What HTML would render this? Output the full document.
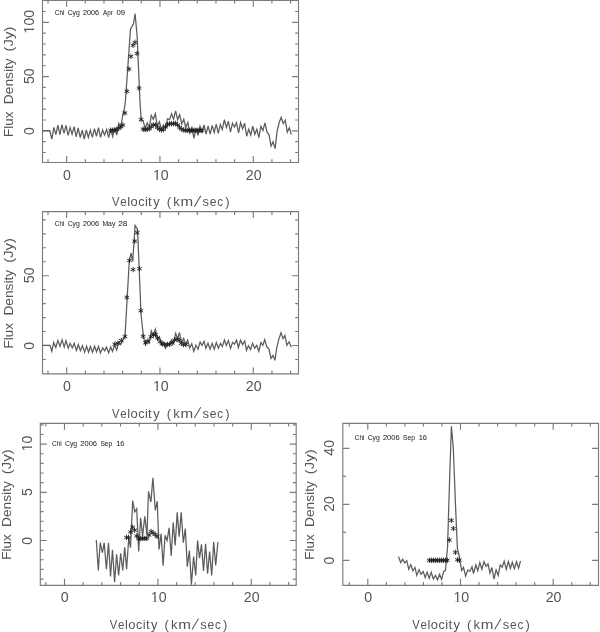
<!DOCTYPE html>
<html><head><meta charset="utf-8"><style>
html,body{margin:0;padding:0;background:#fff;}
svg{display:block;filter:blur(0.36px);}
text{font-family:"Liberation Sans", sans-serif;}
.n{font-size:14.2px;fill:#555;}
.t{font-size:13px;fill:#555;}
.s{font-size:7.8px;fill:#2a2a2a;stroke:#2a2a2a;stroke-width:0.05px;}
</style></head><body>
<svg width="600" height="632" viewBox="0 0 600 632">
<rect width="600" height="632" fill="#fff"/>
<path d="M42.5,0.3H298.5V162.5H42.5ZM48.01,0.3v3.3M48.01,162.5v-3.3M66.67,0.3v6.5M66.67,162.5v-6.5M85.33,0.3v3.3M85.33,162.5v-3.3M103.99,0.3v3.3M103.99,162.5v-3.3M122.65,0.3v3.3M122.65,162.5v-3.3M141.31,0.3v3.3M141.31,162.5v-3.3M159.97,0.3v6.5M159.97,162.5v-6.5M178.63,0.3v3.3M178.63,162.5v-3.3M197.29,0.3v3.3M197.29,162.5v-3.3M215.95,0.3v3.3M215.95,162.5v-3.3M234.61,0.3v3.3M234.61,162.5v-3.3M253.27,0.3v6.5M253.27,162.5v-6.5M271.93,0.3v3.3M271.93,162.5v-3.3M290.59,0.3v3.3M290.59,162.5v-3.3M42.5,152.50h3.3M298.5,152.50h-3.3M42.5,141.65h3.3M298.5,141.65h-3.3M42.5,130.80h6.5M298.5,130.80h-6.5M42.5,119.95h3.3M298.5,119.95h-3.3M42.5,109.10h3.3M298.5,109.10h-3.3M42.5,98.25h3.3M298.5,98.25h-3.3M42.5,87.40h3.3M298.5,87.40h-3.3M42.5,76.55h6.5M298.5,76.55h-6.5M42.5,65.70h3.3M298.5,65.70h-3.3M42.5,54.85h3.3M298.5,54.85h-3.3M42.5,44.00h3.3M298.5,44.00h-3.3M42.5,33.15h3.3M298.5,33.15h-3.3M42.5,22.30h6.5M298.5,22.30h-6.5M42.5,11.45h3.3M298.5,11.45h-3.3" fill="none" stroke="#7c7c7c" stroke-width="1.15"/>
<text x="63.02" y="179.60" class="n" textLength="7.90" lengthAdjust="spacingAndGlyphs">0</text>
<text x="152.91" y="179.60" class="n" textLength="15.79" lengthAdjust="spacingAndGlyphs">10</text><rect x="153.60" y="178.39" width="2.78" height="2.26" fill="#fff"/><rect x="157.83" y="178.39" width="2.80" height="2.26" fill="#fff"/>
<text x="245.79" y="179.60" class="n" textLength="15.79" lengthAdjust="spacingAndGlyphs">20</text>
<g transform="translate(33.70,131.05) rotate(-90)"><text x="-3.95" y="0.00" class="n" textLength="7.90" lengthAdjust="spacingAndGlyphs">0</text></g>
<g transform="translate(33.70,76.20) rotate(-90)"><text x="-7.90" y="0.00" class="n" textLength="15.79" lengthAdjust="spacingAndGlyphs">50</text></g>
<g transform="translate(33.70,21.35) rotate(-90)"><text x="-12.11" y="0.00" class="n" textLength="23.69" lengthAdjust="spacingAndGlyphs">100</text><rect x="-11.42" y="-1.21" width="2.78" height="2.26" fill="#fff"/><rect x="-7.18" y="-1.21" width="2.80" height="2.26" fill="#fff"/></g>
<text transform="translate(112.05,206.40) scale(0.865,1)" x="0" y="0" class="t">V</text><text transform="translate(120.31,206.40) scale(0.885,1)" x="0" y="0" class="t">e</text><text transform="translate(127.15,206.40) scale(1.000,1)" x="0" y="0" class="t">l</text><text transform="translate(130.56,206.40) scale(0.994,1)" x="0" y="0" class="t">o</text><text transform="translate(138.27,206.40) scale(0.963,1)" x="0" y="0" class="t">c</text><text transform="translate(145.06,206.40) scale(1.000,1)" x="0" y="0" class="t">i</text><text transform="translate(148.10,206.40) scale(1.024,1)" x="0" y="0" class="t">t</text><text transform="translate(153.27,206.40) scale(0.993,1)" x="0" y="0" class="t">y</text>
<text transform="translate(166.82,206.40) scale(1.000,1)" x="0" y="0" class="t">(</text><text transform="translate(173.17,206.40) scale(1.001,1)" x="0" y="0" class="t">k</text><text transform="translate(180.54,206.40) scale(1.169,1)" x="0" y="0" class="t">m</text><line x1="194.25" y1="206.70" x2="200.75" y2="195.80" stroke="#555" stroke-width="1.05"/><text transform="translate(202.44,206.40) scale(0.997,1)" x="0" y="0" class="t">s</text><text transform="translate(209.79,206.40) scale(0.926,1)" x="0" y="0" class="t">e</text><text transform="translate(217.31,206.40) scale(0.892,1)" x="0" y="0" class="t">c</text><text transform="translate(225.25,206.40) scale(1.000,1)" x="0" y="0" class="t">)</text>
<g transform="translate(13.30,162.50) rotate(-90)"><text x="25.49" y="0.00" class="t" textLength="25.45" lengthAdjust="spacingAndGlyphs">Flux</text><text x="58.37" y="0.00" class="t" textLength="45.75" lengthAdjust="spacingAndGlyphs">Density</text><text x="111.08" y="0.00" class="t" textLength="24.85" lengthAdjust="spacingAndGlyphs">(Jy)</text></g>
<path d="M42.5,211.6H298.5V373.9H42.5ZM48.01,211.6v3.3M48.01,373.9v-3.3M66.67,211.6v6.5M66.67,373.9v-6.5M85.33,211.6v3.3M85.33,373.9v-3.3M103.99,211.6v3.3M103.99,373.9v-3.3M122.65,211.6v3.3M122.65,373.9v-3.3M141.31,211.6v3.3M141.31,373.9v-3.3M159.97,211.6v6.5M159.97,373.9v-6.5M178.63,211.6v3.3M178.63,373.9v-3.3M197.29,211.6v3.3M197.29,373.9v-3.3M215.95,211.6v3.3M215.95,373.9v-3.3M234.61,211.6v3.3M234.61,373.9v-3.3M253.27,211.6v6.5M253.27,373.9v-6.5M271.93,211.6v3.3M271.93,373.9v-3.3M290.59,211.6v3.3M290.59,373.9v-3.3M42.5,359.46h3.3M298.5,359.46h-3.3M42.5,345.50h6.5M298.5,345.50h-6.5M42.5,331.54h3.3M298.5,331.54h-3.3M42.5,317.58h3.3M298.5,317.58h-3.3M42.5,303.62h3.3M298.5,303.62h-3.3M42.5,289.66h3.3M298.5,289.66h-3.3M42.5,275.70h6.5M298.5,275.70h-6.5M42.5,261.74h3.3M298.5,261.74h-3.3M42.5,247.78h3.3M298.5,247.78h-3.3M42.5,233.82h3.3M298.5,233.82h-3.3M42.5,219.86h3.3M298.5,219.86h-3.3" fill="none" stroke="#7c7c7c" stroke-width="1.15"/>
<text x="63.02" y="391.00" class="n" textLength="7.90" lengthAdjust="spacingAndGlyphs">0</text>
<text x="152.91" y="391.00" class="n" textLength="15.79" lengthAdjust="spacingAndGlyphs">10</text><rect x="153.60" y="389.79" width="2.78" height="2.26" fill="#fff"/><rect x="157.83" y="389.79" width="2.80" height="2.26" fill="#fff"/>
<text x="245.79" y="391.00" class="n" textLength="15.79" lengthAdjust="spacingAndGlyphs">20</text>
<g transform="translate(33.70,345.75) rotate(-90)"><text x="-3.95" y="0.00" class="n" textLength="7.90" lengthAdjust="spacingAndGlyphs">0</text></g>
<g transform="translate(33.70,275.35) rotate(-90)"><text x="-7.90" y="0.00" class="n" textLength="15.79" lengthAdjust="spacingAndGlyphs">50</text></g>
<text transform="translate(112.05,417.80) scale(0.865,1)" x="0" y="0" class="t">V</text><text transform="translate(120.31,417.80) scale(0.885,1)" x="0" y="0" class="t">e</text><text transform="translate(127.15,417.80) scale(1.000,1)" x="0" y="0" class="t">l</text><text transform="translate(130.56,417.80) scale(0.994,1)" x="0" y="0" class="t">o</text><text transform="translate(138.27,417.80) scale(0.963,1)" x="0" y="0" class="t">c</text><text transform="translate(145.06,417.80) scale(1.000,1)" x="0" y="0" class="t">i</text><text transform="translate(148.10,417.80) scale(1.024,1)" x="0" y="0" class="t">t</text><text transform="translate(153.27,417.80) scale(0.993,1)" x="0" y="0" class="t">y</text>
<text transform="translate(166.82,417.80) scale(1.000,1)" x="0" y="0" class="t">(</text><text transform="translate(173.17,417.80) scale(1.001,1)" x="0" y="0" class="t">k</text><text transform="translate(180.54,417.80) scale(1.169,1)" x="0" y="0" class="t">m</text><line x1="194.25" y1="418.10" x2="200.75" y2="407.20" stroke="#555" stroke-width="1.05"/><text transform="translate(202.44,417.80) scale(0.997,1)" x="0" y="0" class="t">s</text><text transform="translate(209.79,417.80) scale(0.926,1)" x="0" y="0" class="t">e</text><text transform="translate(217.31,417.80) scale(0.892,1)" x="0" y="0" class="t">c</text><text transform="translate(225.25,417.80) scale(1.000,1)" x="0" y="0" class="t">)</text>
<g transform="translate(13.30,373.90) rotate(-90)"><text x="25.49" y="0.00" class="t" textLength="25.45" lengthAdjust="spacingAndGlyphs">Flux</text><text x="58.37" y="0.00" class="t" textLength="45.75" lengthAdjust="spacingAndGlyphs">Density</text><text x="111.08" y="0.00" class="t" textLength="24.85" lengthAdjust="spacingAndGlyphs">(Jy)</text></g>
<path d="M40.3,423.3H296.2V585.3H40.3ZM45.82,423.3v3.3M45.82,585.3v-3.3M64.50,423.3v6.5M64.50,585.3v-6.5M83.18,423.3v3.3M83.18,585.3v-3.3M101.86,423.3v3.3M101.86,585.3v-3.3M120.54,423.3v3.3M120.54,585.3v-3.3M139.22,423.3v3.3M139.22,585.3v-3.3M157.90,423.3v6.5M157.90,585.3v-6.5M176.58,423.3v3.3M176.58,585.3v-3.3M195.26,423.3v3.3M195.26,585.3v-3.3M213.94,423.3v3.3M213.94,585.3v-3.3M232.62,423.3v3.3M232.62,585.3v-3.3M251.30,423.3v6.5M251.30,585.3v-6.5M269.98,423.3v3.3M269.98,585.3v-3.3M288.66,423.3v3.3M288.66,585.3v-3.3M40.3,579.06h3.3M296.2,579.06h-3.3M40.3,569.42h3.3M296.2,569.42h-3.3M40.3,559.78h3.3M296.2,559.78h-3.3M40.3,550.14h3.3M296.2,550.14h-3.3M40.3,540.50h6.5M296.2,540.50h-6.5M40.3,530.86h3.3M296.2,530.86h-3.3M40.3,521.22h3.3M296.2,521.22h-3.3M40.3,511.58h3.3M296.2,511.58h-3.3M40.3,501.94h3.3M296.2,501.94h-3.3M40.3,492.30h6.5M296.2,492.30h-6.5M40.3,482.66h3.3M296.2,482.66h-3.3M40.3,473.02h3.3M296.2,473.02h-3.3M40.3,463.38h3.3M296.2,463.38h-3.3M40.3,453.74h3.3M296.2,453.74h-3.3M40.3,444.10h6.5M296.2,444.10h-6.5M40.3,434.46h3.3M296.2,434.46h-3.3M40.3,424.82h3.3M296.2,424.82h-3.3" fill="none" stroke="#7c7c7c" stroke-width="1.15"/>
<text x="60.85" y="602.40" class="n" textLength="7.90" lengthAdjust="spacingAndGlyphs">0</text>
<text x="150.84" y="602.40" class="n" textLength="15.79" lengthAdjust="spacingAndGlyphs">10</text><rect x="151.53" y="601.19" width="2.78" height="2.26" fill="#fff"/><rect x="155.76" y="601.19" width="2.80" height="2.26" fill="#fff"/>
<text x="243.82" y="602.40" class="n" textLength="15.79" lengthAdjust="spacingAndGlyphs">20</text>
<g transform="translate(31.50,540.75) rotate(-90)"><text x="-3.95" y="0.00" class="n" textLength="7.90" lengthAdjust="spacingAndGlyphs">0</text></g>
<g transform="translate(31.50,492.10) rotate(-90)"><text x="-3.93" y="0.00" class="n" textLength="7.90" lengthAdjust="spacingAndGlyphs">5</text></g>
<g transform="translate(31.50,443.20) rotate(-90)"><text x="-8.16" y="0.00" class="n" textLength="15.79" lengthAdjust="spacingAndGlyphs">10</text><rect x="-7.47" y="-1.21" width="2.78" height="2.26" fill="#fff"/><rect x="-3.24" y="-1.21" width="2.80" height="2.26" fill="#fff"/></g>
<text transform="translate(109.85,629.20) scale(0.865,1)" x="0" y="0" class="t">V</text><text transform="translate(118.11,629.20) scale(0.885,1)" x="0" y="0" class="t">e</text><text transform="translate(124.95,629.20) scale(1.000,1)" x="0" y="0" class="t">l</text><text transform="translate(128.36,629.20) scale(0.994,1)" x="0" y="0" class="t">o</text><text transform="translate(136.07,629.20) scale(0.963,1)" x="0" y="0" class="t">c</text><text transform="translate(142.86,629.20) scale(1.000,1)" x="0" y="0" class="t">i</text><text transform="translate(145.90,629.20) scale(1.024,1)" x="0" y="0" class="t">t</text><text transform="translate(151.07,629.20) scale(0.993,1)" x="0" y="0" class="t">y</text>
<text transform="translate(164.62,629.20) scale(1.000,1)" x="0" y="0" class="t">(</text><text transform="translate(170.97,629.20) scale(1.001,1)" x="0" y="0" class="t">k</text><text transform="translate(178.34,629.20) scale(1.169,1)" x="0" y="0" class="t">m</text><line x1="192.05" y1="629.50" x2="198.55" y2="618.60" stroke="#555" stroke-width="1.05"/><text transform="translate(200.24,629.20) scale(0.997,1)" x="0" y="0" class="t">s</text><text transform="translate(207.59,629.20) scale(0.926,1)" x="0" y="0" class="t">e</text><text transform="translate(215.11,629.20) scale(0.892,1)" x="0" y="0" class="t">c</text><text transform="translate(223.05,629.20) scale(1.000,1)" x="0" y="0" class="t">)</text>
<g transform="translate(11.10,585.30) rotate(-90)"><text x="25.49" y="0.00" class="t" textLength="25.45" lengthAdjust="spacingAndGlyphs">Flux</text><text x="58.37" y="0.00" class="t" textLength="45.75" lengthAdjust="spacingAndGlyphs">Density</text><text x="111.08" y="0.00" class="t" textLength="24.85" lengthAdjust="spacingAndGlyphs">(Jy)</text></g>
<path d="M342.8,423.3H598.5V585.3H342.8ZM349.26,423.3v3.3M349.26,585.3v-3.3M367.80,423.3v6.5M367.80,585.3v-6.5M386.34,423.3v3.3M386.34,585.3v-3.3M404.88,423.3v3.3M404.88,585.3v-3.3M423.42,423.3v3.3M423.42,585.3v-3.3M441.96,423.3v3.3M441.96,585.3v-3.3M460.50,423.3v6.5M460.50,585.3v-6.5M479.04,423.3v3.3M479.04,585.3v-3.3M497.58,423.3v3.3M497.58,585.3v-3.3M516.12,423.3v3.3M516.12,585.3v-3.3M534.66,423.3v3.3M534.66,585.3v-3.3M553.20,423.3v6.5M553.20,585.3v-6.5M571.74,423.3v3.3M571.74,585.3v-3.3M590.28,423.3v3.3M590.28,585.3v-3.3M342.8,560.40h6.5M598.5,560.40h-6.5M342.8,532.40h3.3M598.5,532.40h-3.3M342.8,504.40h6.5M598.5,504.40h-6.5M342.8,476.40h3.3M598.5,476.40h-3.3M342.8,448.40h6.5M598.5,448.40h-6.5" fill="none" stroke="#7c7c7c" stroke-width="1.15"/>
<text x="364.15" y="602.40" class="n" textLength="7.90" lengthAdjust="spacingAndGlyphs">0</text>
<text x="453.44" y="602.40" class="n" textLength="15.79" lengthAdjust="spacingAndGlyphs">10</text><rect x="454.13" y="601.19" width="2.78" height="2.26" fill="#fff"/><rect x="458.36" y="601.19" width="2.80" height="2.26" fill="#fff"/>
<text x="545.72" y="602.40" class="n" textLength="15.79" lengthAdjust="spacingAndGlyphs">20</text>
<g transform="translate(334.00,560.65) rotate(-90)"><text x="-3.95" y="0.00" class="n" textLength="7.90" lengthAdjust="spacingAndGlyphs">0</text></g>
<g transform="translate(334.00,503.90) rotate(-90)"><text x="-7.98" y="0.00" class="n" textLength="15.79" lengthAdjust="spacingAndGlyphs">20</text></g>
<g transform="translate(334.00,447.90) rotate(-90)"><text x="-7.78" y="0.00" class="n" textLength="15.79" lengthAdjust="spacingAndGlyphs">40</text></g>
<text transform="translate(412.35,629.20) scale(0.865,1)" x="0" y="0" class="t">V</text><text transform="translate(420.61,629.20) scale(0.885,1)" x="0" y="0" class="t">e</text><text transform="translate(427.45,629.20) scale(1.000,1)" x="0" y="0" class="t">l</text><text transform="translate(430.86,629.20) scale(0.994,1)" x="0" y="0" class="t">o</text><text transform="translate(438.57,629.20) scale(0.963,1)" x="0" y="0" class="t">c</text><text transform="translate(445.36,629.20) scale(1.000,1)" x="0" y="0" class="t">i</text><text transform="translate(448.40,629.20) scale(1.024,1)" x="0" y="0" class="t">t</text><text transform="translate(453.57,629.20) scale(0.993,1)" x="0" y="0" class="t">y</text>
<text transform="translate(467.12,629.20) scale(1.000,1)" x="0" y="0" class="t">(</text><text transform="translate(473.47,629.20) scale(1.001,1)" x="0" y="0" class="t">k</text><text transform="translate(480.84,629.20) scale(1.169,1)" x="0" y="0" class="t">m</text><line x1="494.55" y1="629.50" x2="501.05" y2="618.60" stroke="#555" stroke-width="1.05"/><text transform="translate(502.74,629.20) scale(0.997,1)" x="0" y="0" class="t">s</text><text transform="translate(510.09,629.20) scale(0.926,1)" x="0" y="0" class="t">e</text><text transform="translate(517.61,629.20) scale(0.892,1)" x="0" y="0" class="t">c</text><text transform="translate(525.55,629.20) scale(1.000,1)" x="0" y="0" class="t">)</text>
<g transform="translate(313.60,585.30) rotate(-90)"><text x="25.49" y="0.00" class="t" textLength="25.45" lengthAdjust="spacingAndGlyphs">Flux</text><text x="58.37" y="0.00" class="t" textLength="45.75" lengthAdjust="spacingAndGlyphs">Density</text><text x="111.08" y="0.00" class="t" textLength="24.85" lengthAdjust="spacingAndGlyphs">(Jy)</text></g>
<text x="54.77" y="14.50" class="s" textLength="9.66" lengthAdjust="spacingAndGlyphs">Chi</text>
<text x="67.65" y="14.50" class="s" textLength="12.08" lengthAdjust="spacingAndGlyphs">Cyg</text>
<text x="82.94" y="14.50" class="s" textLength="16.08" lengthAdjust="spacingAndGlyphs">2006</text>
<text x="102.99" y="14.50" class="s" textLength="9.82" lengthAdjust="spacingAndGlyphs">Apr</text>
<text x="116.40" y="14.50" class="s" textLength="8.67" lengthAdjust="spacingAndGlyphs">09</text>
<text x="54.77" y="225.80" class="s" textLength="9.66" lengthAdjust="spacingAndGlyphs">Chi</text>
<text x="67.65" y="225.80" class="s" textLength="12.08" lengthAdjust="spacingAndGlyphs">Cyg</text>
<text x="82.94" y="225.80" class="s" textLength="16.08" lengthAdjust="spacingAndGlyphs">2006</text>
<text x="102.44" y="225.80" class="s" textLength="12.87" lengthAdjust="spacingAndGlyphs">May</text>
<text x="118.29" y="225.80" class="s" textLength="9.17" lengthAdjust="spacingAndGlyphs">28</text>
<text x="52.07" y="445.80" class="s" textLength="9.66" lengthAdjust="spacingAndGlyphs">Chi</text>
<text x="64.95" y="445.80" class="s" textLength="12.19" lengthAdjust="spacingAndGlyphs">Cyg</text>
<text x="80.32" y="445.80" class="s" textLength="16.71" lengthAdjust="spacingAndGlyphs">2006</text>
<text x="100.40" y="445.80" class="s" textLength="11.88" lengthAdjust="spacingAndGlyphs">Sep</text>
<text x="116.14" y="445.80" class="s" textLength="8.18" lengthAdjust="spacingAndGlyphs">16</text>
<text x="354.77" y="439.80" class="s" textLength="9.66" lengthAdjust="spacingAndGlyphs">Chi</text>
<text x="367.65" y="439.80" class="s" textLength="12.08" lengthAdjust="spacingAndGlyphs">Cyg</text>
<text x="382.92" y="439.80" class="s" textLength="16.71" lengthAdjust="spacingAndGlyphs">2006</text>
<text x="402.99" y="439.80" class="s" textLength="11.99" lengthAdjust="spacingAndGlyphs">Sep</text>
<text x="418.73" y="439.80" class="s" textLength="8.30" lengthAdjust="spacingAndGlyphs">16</text>
<polyline fill="none" stroke="#5c5c5c" stroke-width="1.25" stroke-linejoin="miter" points="42.50,130.50 49.77,130.50 51.80,139.20 53.83,127.30 55.86,134.60 57.89,125.20 59.92,134.60 61.95,124.60 63.98,133.30 66.01,125.40 68.04,135.40 70.07,127.50 72.10,134.20 74.13,126.70 76.16,136.80 78.19,127.90 80.22,137.50 82.25,130.20 84.28,139.00 86.31,130.00 88.34,137.40 90.37,130.00 92.40,137.30 94.43,128.75 96.46,136.25 98.49,127.70 100.52,137.30 102.55,130.00 104.58,135.00 106.61,129.30 108.64,137.50 110.67,129.30 112.70,136.50 114.73,127.90 116.76,135.20 118.79,123.50 120.82,127.40 122.70,115.50 124.60,107.50 125.50,100.00 130.50,28.90 133.50,23.80 135.10,13.70 137.10,35.80 139.90,100.00 141.12,119.60 143.15,120.80 145.18,128.30 147.21,122.90 149.24,127.50 151.27,115.40 153.30,119.20 155.33,113.75 157.36,126.70 159.39,121.80 161.42,129.60 163.45,125.00 165.48,128.75 167.51,118.75 169.54,119.60 171.57,113.75 173.60,119.20 175.63,110.80 177.66,119.60 179.69,114.60 181.72,124.00 183.75,119.30 185.78,127.50 187.81,122.50 189.84,132.90 191.87,127.50 193.90,138.30 195.93,128.30 197.96,135.40 199.99,126.25 202.02,132.10 204.05,125.00 206.08,134.20 208.11,125.80 210.14,134.20 212.17,125.40 214.20,132.50 216.23,124.20 218.26,133.30 220.29,124.60 222.32,129.60 224.35,119.60 226.38,127.50 228.41,121.25 230.44,132.00 232.47,123.30 234.50,127.10 236.53,122.70 238.56,132.90 240.59,122.50 242.62,128.75 244.65,123.20 246.68,136.25 248.71,129.20 250.74,135.00 252.77,126.25 254.80,134.20 256.83,129.20 258.86,137.50 260.89,126.25 262.92,130.40 264.95,122.90 266.98,132.20 269.01,134.60 271.04,146.20 273.07,141.70 275.10,148.70 277.13,130.90 279.16,122.80 281.19,117.40 283.22,123.50 285.25,120.20 287.28,132.20 289.31,127.70 291.34,134.60"/>
<path d="M110.67,127.80v5.40M108.33,129.15l4.68,2.70M108.33,131.85l4.68,-2.70M112.70,127.60v5.40M110.36,128.95l4.68,2.70M110.36,131.65l4.68,-2.70M114.73,127.40v5.40M112.39,128.75l4.68,2.70M112.39,131.45l4.68,-2.70M116.76,126.80v5.40M114.42,128.15l4.68,2.70M114.42,130.85l4.68,-2.70M118.79,125.60v5.40M116.45,126.95l4.68,2.70M116.45,129.65l4.68,-2.70M120.82,124.10v5.40M118.48,125.45l4.68,2.70M118.48,128.15l4.68,-2.70M122.85,122.30v5.40M120.51,123.65l4.68,2.70M120.51,126.35l4.68,-2.70M124.88,110.30v5.40M122.54,111.65l4.68,2.70M122.54,114.35l4.68,-2.70M126.91,88.60v5.40M124.57,89.95l4.68,2.70M124.57,92.65l4.68,-2.70M128.94,66.30v5.40M126.60,67.65l4.68,2.70M126.60,70.35l4.68,-2.70M130.97,53.70v5.40M128.63,55.05l4.68,2.70M128.63,57.75l4.68,-2.70M133.00,42.60v5.40M130.66,43.95l4.68,2.70M130.66,46.65l4.68,-2.70M135.03,39.70v5.40M132.69,41.05l4.68,2.70M132.69,43.75l4.68,-2.70M137.06,50.80v5.40M134.72,52.15l4.68,2.70M134.72,54.85l4.68,-2.70M139.09,85.40v5.40M136.75,86.75l4.68,2.70M136.75,89.45l4.68,-2.70M141.12,116.90v5.40M138.78,118.25l4.68,2.70M138.78,120.95l4.68,-2.70M143.15,126.50v5.40M140.81,127.85l4.68,2.70M140.81,130.55l4.68,-2.70M145.18,126.90v5.40M142.84,128.25l4.68,2.70M142.84,130.95l4.68,-2.70M147.21,126.50v5.40M144.87,127.85l4.68,2.70M144.87,130.55l4.68,-2.70M149.24,126.05v5.40M146.90,127.40l4.68,2.70M146.90,130.10l4.68,-2.70M151.27,124.00v5.40M148.93,125.35l4.68,2.70M148.93,128.05l4.68,-2.70M153.30,122.10v5.40M150.96,123.45l4.68,2.70M150.96,126.15l4.68,-2.70M155.33,122.30v5.40M152.99,123.65l4.68,2.70M152.99,126.35l4.68,-2.70M157.36,124.80v5.40M155.02,126.15l4.68,2.70M155.02,128.85l4.68,-2.70M159.39,126.50v5.40M157.05,127.85l4.68,2.70M157.05,130.55l4.68,-2.70M161.42,127.30v5.40M159.08,128.65l4.68,2.70M159.08,131.35l4.68,-2.70M163.45,126.90v5.40M161.11,128.25l4.68,2.70M161.11,130.95l4.68,-2.70M165.48,124.30v5.40M163.14,125.65l4.68,2.70M163.14,128.35l4.68,-2.70M167.51,121.90v5.40M165.17,123.25l4.68,2.70M165.17,125.95l4.68,-2.70M169.54,121.05v5.40M167.20,122.40l4.68,2.70M167.20,125.10l4.68,-2.70M171.57,121.05v5.40M169.23,122.40l4.68,2.70M169.23,125.10l4.68,-2.70M173.60,121.05v5.40M171.26,122.40l4.68,2.70M171.26,125.10l4.68,-2.70M175.63,120.60v5.40M173.29,121.95l4.68,2.70M173.29,124.65l4.68,-2.70M177.66,122.30v5.40M175.32,123.65l4.68,2.70M175.32,126.35l4.68,-2.70M179.69,124.80v5.40M177.35,126.15l4.68,2.70M177.35,128.85l4.68,-2.70M181.72,126.50v5.40M179.38,127.85l4.68,2.70M179.38,130.55l4.68,-2.70M183.75,127.30v5.40M181.41,128.65l4.68,2.70M181.41,131.35l4.68,-2.70M185.78,127.70v5.40M183.44,129.05l4.68,2.70M183.44,131.75l4.68,-2.70M187.81,127.70v5.40M185.47,129.05l4.68,2.70M185.47,131.75l4.68,-2.70M189.84,127.70v5.40M187.50,129.05l4.68,2.70M187.50,131.75l4.68,-2.70M191.87,127.70v5.40M189.53,129.05l4.68,2.70M189.53,131.75l4.68,-2.70M193.90,127.70v5.40M191.56,129.05l4.68,2.70M191.56,131.75l4.68,-2.70M195.93,127.70v5.40M193.59,129.05l4.68,2.70M193.59,131.75l4.68,-2.70M197.96,127.70v5.40M195.62,129.05l4.68,2.70M195.62,131.75l4.68,-2.70M199.99,127.70v5.40M197.65,129.05l4.68,2.70M197.65,131.75l4.68,-2.70M202.02,127.70v5.40M199.68,129.05l4.68,2.70M199.68,131.75l4.68,-2.70" fill="none" stroke="#1e1e1e" stroke-width="0.9"/>
<polyline fill="none" stroke="#5c5c5c" stroke-width="1.25" stroke-linejoin="miter" points="42.50,345.30 50.00,345.30 51.80,351.25 53.75,342.50 55.80,347.50 57.90,340.40 60.00,346.25 62.10,339.80 64.20,347.10 66.00,340.80 68.30,348.20 70.20,343.30 72.30,347.90 74.20,343.30 76.40,350.40 78.30,344.60 80.40,350.80 82.50,345.80 84.60,352.10 86.60,346.20 88.60,352.20 90.40,346.50 92.50,352.30 94.60,346.25 96.50,351.80 98.50,346.50 100.40,352.90 102.70,347.90 104.60,350.80 106.50,347.10 108.60,352.90 110.70,347.10 112.50,351.50 114.60,345.00 116.70,350.00 118.75,342.20 120.80,344.50 122.80,340.00 125.00,336.50 129.30,260.50 131.10,253.00 132.70,261.50 135.10,225.50 137.60,229.60 141.00,314.00 143.40,336.30 145.50,345.00 147.60,340.00 149.25,342.90 151.30,330.80 153.40,335.40 155.30,329.20 157.60,340.00 159.50,337.00 161.75,345.00 163.40,342.50 165.50,348.30 167.60,342.90 169.50,345.00 171.50,340.00 173.40,343.30 175.70,333.30 177.60,338.75 179.50,332.50 181.50,342.50 183.70,338.50 185.50,345.00 187.60,340.20 189.70,347.90 191.75,343.75 193.80,351.25 195.90,345.00 198.00,349.20 200.10,342.10 202.00,345.40 204.00,341.25 205.90,348.30 208.00,343.30 210.10,349.20 212.20,343.30 214.25,349.20 216.30,342.50 218.40,348.30 220.50,343.30 222.30,346.50 224.50,340.00 226.30,345.40 228.40,340.60 230.50,348.30 232.60,342.30 234.50,344.20 236.50,340.00 238.40,347.50 240.50,340.25 242.60,344.60 244.70,341.00 246.50,350.40 248.40,345.80 250.50,349.60 252.60,343.30 254.70,348.20 256.75,345.40 258.80,351.25 260.90,342.50 262.80,345.40 264.75,339.70 266.75,346.80 268.90,348.80 271.00,358.40 273.05,355.30 274.90,360.30 276.80,347.50 278.60,339.80 281.00,332.70 283.00,338.60 284.90,335.40 286.90,345.30 289.00,341.80 291.40,347.30"/>
<path d="M114.80,341.50v5.40M112.46,342.85l4.68,2.70M112.46,345.55l4.68,-2.70M117.90,340.60v5.40M115.56,341.95l4.68,2.70M115.56,344.65l4.68,-2.70M121.30,337.90v5.40M118.96,339.25l4.68,2.70M118.96,341.95l4.68,-2.70M124.90,333.90v5.40M122.56,335.25l4.68,2.70M122.56,337.95l4.68,-2.70M126.80,294.70v5.40M124.46,296.05l4.68,2.70M124.46,298.75l4.68,-2.70M129.50,257.70v5.40M127.16,259.05l4.68,2.70M127.16,261.75l4.68,-2.70M133.10,266.90v5.40M130.76,268.25l4.68,2.70M130.76,270.95l4.68,-2.70M134.70,238.50v5.40M132.36,239.85l4.68,2.70M132.36,242.55l4.68,-2.70M137.20,229.90v5.40M134.86,231.25l4.68,2.70M134.86,233.95l4.68,-2.70M139.50,266.00v5.40M137.16,267.35l4.68,2.70M137.16,270.05l4.68,-2.70M140.90,308.00v5.40M138.56,309.35l4.68,2.70M138.56,312.05l4.68,-2.70M143.10,333.60v5.40M140.76,334.95l4.68,2.70M140.76,337.65l4.68,-2.70M145.50,340.10v5.40M143.16,341.45l4.68,2.70M143.16,344.15l4.68,-2.70M148.00,338.55v5.40M145.66,339.90l4.68,2.70M145.66,342.60l4.68,-2.70M150.90,334.00v5.40M148.56,335.35l4.68,2.70M148.56,338.05l4.68,-2.70M153.40,332.30v5.40M151.06,333.65l4.68,2.70M151.06,336.35l4.68,-2.70M155.50,331.90v5.40M153.16,333.25l4.68,2.70M153.16,335.95l4.68,-2.70M157.60,335.20v5.40M155.26,336.55l4.68,2.70M155.26,339.25l4.68,-2.70M160.10,339.00v5.40M157.76,340.35l4.68,2.70M157.76,343.05l4.68,-2.70M162.20,341.05v5.40M159.86,342.40l4.68,2.70M159.86,345.10l4.68,-2.70M164.70,341.90v5.40M162.36,343.25l4.68,2.70M162.36,345.95l4.68,-2.70M167.20,341.90v5.40M164.86,343.25l4.68,2.70M164.86,345.95l4.68,-2.70M169.70,341.50v5.40M167.36,342.85l4.68,2.70M167.36,345.55l4.68,-2.70M172.20,340.20v5.40M169.86,341.55l4.68,2.70M169.86,344.25l4.68,-2.70M174.70,337.30v5.40M172.36,338.65l4.68,2.70M172.36,341.35l4.68,-2.70M177.20,336.50v5.40M174.86,337.85l4.68,2.70M174.86,340.55l4.68,-2.70M179.25,337.70v5.40M176.91,339.05l4.68,2.70M176.91,341.75l4.68,-2.70M181.30,340.60v5.40M178.96,341.95l4.68,2.70M178.96,344.65l4.68,-2.70M183.40,341.90v5.40M181.06,343.25l4.68,2.70M181.06,345.95l4.68,-2.70M185.90,341.90v5.40M183.56,343.25l4.68,2.70M183.56,345.95l4.68,-2.70" fill="none" stroke="#1e1e1e" stroke-width="0.9"/>
<polyline fill="none" stroke="#5c5c5c" stroke-width="1.25" stroke-linejoin="miter" points="96.30,540.00 98.30,570.40 100.20,542.70 102.40,552.70 104.20,542.70 106.40,569.30 108.50,542.70 110.50,576.50 112.50,549.90 114.60,582.10 116.60,554.40 118.60,575.40 120.70,553.30 122.70,570.40 124.70,547.20 126.60,569.30 128.80,537.20 130.50,547.70 132.70,500.50 134.70,511.90 136.70,508.80 138.70,551.50 140.60,517.70 142.60,536.10 144.80,516.30 147.00,535.30 148.50,491.40 150.90,502.00 152.90,477.90 155.30,510.30 157.25,501.25 159.00,549.40 161.10,533.90 163.10,565.60 165.10,535.30 167.10,540.30 169.10,527.90 171.20,555.90 173.20,522.50 175.20,545.40 177.20,512.40 179.20,536.60 181.20,512.40 183.30,542.70 185.30,528.60 187.30,566.70 189.40,550.60 191.40,584.60 193.60,556.60 195.70,575.40 197.60,540.50 199.50,558.20 201.50,544.40 203.50,570.90 205.60,543.80 207.60,573.70 209.60,551.60 211.70,575.40 213.70,542.10 215.70,565.40 217.90,542.10"/>
<path d="M126.50,534.80v5.40M124.16,536.15l4.68,2.70M124.16,538.85l4.68,-2.70M128.50,534.80v5.40M126.16,536.15l4.68,2.70M126.16,538.85l4.68,-2.70M130.55,529.30v5.40M128.21,530.65l4.68,2.70M128.21,533.35l4.68,-2.70M132.60,524.60v5.40M130.26,525.95l4.68,2.70M130.26,528.65l4.68,-2.70M134.65,527.50v5.40M132.31,528.85l4.68,2.70M132.31,531.55l4.68,-2.70M136.70,533.30v5.40M134.36,534.65l4.68,2.70M134.36,537.35l4.68,-2.70M138.75,536.10v5.40M136.41,537.45l4.68,2.70M136.41,540.15l4.68,-2.70M140.80,535.80v5.40M138.46,537.15l4.68,2.70M138.46,539.85l4.68,-2.70M142.80,535.80v5.40M140.46,537.15l4.68,2.70M140.46,539.85l4.68,-2.70M144.85,535.80v5.40M142.51,537.15l4.68,2.70M142.51,539.85l4.68,-2.70M146.90,535.60v5.40M144.56,536.95l4.68,2.70M144.56,539.65l4.68,-2.70M148.95,532.30v5.40M146.61,533.65l4.68,2.70M146.61,536.35l4.68,-2.70M151.00,528.80v5.40M148.66,530.15l4.68,2.70M148.66,532.85l4.68,-2.70M153.00,530.20v5.40M150.66,531.55l4.68,2.70M150.66,534.25l4.68,-2.70M155.10,531.80v5.40M152.76,533.15l4.68,2.70M152.76,535.85l4.68,-2.70M157.10,533.80v5.40M154.76,535.15l4.68,2.70M154.76,537.85l4.68,-2.70" fill="none" stroke="#1e1e1e" stroke-width="0.9"/>
<polyline fill="none" stroke="#5c5c5c" stroke-width="1.25" stroke-linejoin="miter" points="398.50,556.70 400.70,562.50 402.70,559.30 404.80,562.90 406.80,560.70 408.75,569.20 410.80,564.60 412.90,570.80 415.00,567.50 416.80,575.40 419.00,569.60 421.00,574.20 423.20,571.50 425.20,577.50 427.10,572.10 429.20,578.30 431.25,572.30 433.30,579.00 435.40,575.40 437.50,579.80 439.60,574.20 441.60,579.50 443.70,571.40 445.50,570.40 447.60,546.00 449.40,485.50 451.40,426.30 453.30,447.80 455.40,502.50 457.40,549.00 459.20,555.50 461.60,570.40 463.50,567.30 465.60,576.00 467.80,569.90 469.90,571.40 472.00,566.80 473.50,573.50 475.80,565.00 477.75,570.80 479.80,562.50 481.90,569.20 484.00,561.70 486.10,566.50 488.00,563.75 490.00,573.20 491.90,567.50 494.00,579.20 496.10,570.00 498.20,575.40 500.25,565.00 502.20,567.30 504.20,561.25 506.30,569.30 508.30,561.50 510.40,568.30 512.30,562.30 514.40,568.75 516.50,561.70 518.60,568.30 520.50,560.80"/>
<path d="M429.30,557.60v5.40M426.96,558.95l4.68,2.70M426.96,561.65l4.68,-2.70M431.30,557.60v5.40M428.96,558.95l4.68,2.70M428.96,561.65l4.68,-2.70M433.30,557.60v5.40M430.96,558.95l4.68,2.70M430.96,561.65l4.68,-2.70M435.30,557.60v5.40M432.96,558.95l4.68,2.70M432.96,561.65l4.68,-2.70M437.30,557.60v5.40M434.96,558.95l4.68,2.70M434.96,561.65l4.68,-2.70M439.30,557.60v5.40M436.96,558.95l4.68,2.70M436.96,561.65l4.68,-2.70M441.30,557.60v5.40M438.96,558.95l4.68,2.70M438.96,561.65l4.68,-2.70M443.30,557.60v5.40M440.96,558.95l4.68,2.70M440.96,561.65l4.68,-2.70M445.30,557.60v5.40M442.96,558.95l4.68,2.70M442.96,561.65l4.68,-2.70M447.30,557.60v5.40M444.96,558.95l4.68,2.70M444.96,561.65l4.68,-2.70M449.30,537.30v5.40M446.96,538.65l4.68,2.70M446.96,541.35l4.68,-2.70M451.40,517.70v5.40M449.06,519.05l4.68,2.70M449.06,521.75l4.68,-2.70M453.40,525.80v5.40M451.06,527.15l4.68,2.70M451.06,529.85l4.68,-2.70M455.40,549.60v5.40M453.06,550.95l4.68,2.70M453.06,553.65l4.68,-2.70M457.40,557.10v5.40M455.06,558.45l4.68,2.70M455.06,561.15l4.68,-2.70M459.30,557.50v5.40M456.96,558.85l4.68,2.70M456.96,561.55l4.68,-2.70" fill="none" stroke="#1e1e1e" stroke-width="0.9"/>
</svg></body></html>
